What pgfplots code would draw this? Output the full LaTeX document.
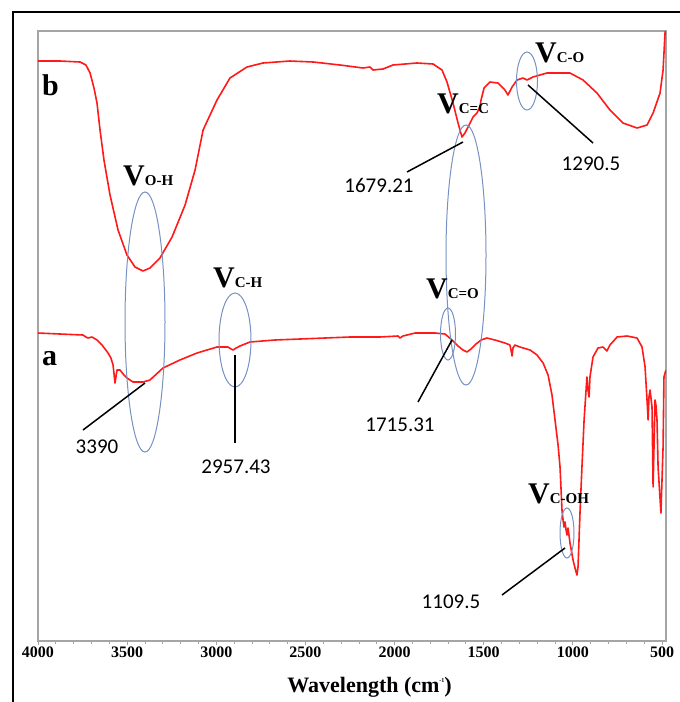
\documentclass[border=0pt]{standalone}
\usepackage{fontspec}
\setmainfont{Liberation Serif}
\newfontfamily\numfont{Carlito}
\usepackage{pgfplots}
\pgfplotsset{compat=1.18}
\definecolor{spec}{RGB}{255,25,25}
\definecolor{ell}{RGB}{120,145,195}
\definecolor{boxgray}{RGB}{165,165,165}
\newcommand{\vlab}[1]{{\fontsize{30}{30}\selectfont\bfseries V\fontsize{15}{15}\selectfont #1}}
\newcommand{\numlab}[1]{{\numfont\fontsize{21}{21}\selectfont #1}}
\begin{document}
\begin{tikzpicture}
\useasboundingbox (0pt,0pt) rectangle (680pt,-702pt);
\draw[line width=2pt] (13pt,-12pt) rectangle (700pt,-720pt);
\begin{axis}[
  at={(38pt,-641pt)}, anchor=south west,
  scale only axis, width=628pt, height=610pt,
  x dir=reverse, xmin=477.6, xmax=4000, ymin=59, ymax=669,
  ytick=\empty, xtick={500,1000,...,4000}, minor x tick num=4,
  xtick pos=left,
  axis line style={boxgray, line width=1.3pt},
  tick style={boxgray, line width=0.8pt},
  tick align=outside, major tick length=4pt, minor tick length=3pt,
  xticklabel style={font=\fontsize{16}{16}\selectfont\bfseries, yshift=2pt},
  /pgf/number format/assume math mode=true,
  /pgf/number format/set thousands separator={},
  xlabel={\fontsize{22}{22}\selectfont\bfseries Wavelength (cm\raisebox{0.45em}{\fontsize{6}{6}\selectfont -1})},
  x label style={at={(axis description cs:0.528,0)}, anchor=north, yshift=-33pt},
  clip=true,
]
\addplot[spec, line width=1.6pt, line join=round] coordinates {
(4000,639) (3877,639) (3764,638) (3731,635) (3708,627) (3686,612) (3669,597) (3652,570) (3630,540) (3596,505) (3551,470) (3501,445) (3456,433) (3411,429) (3372,432) (3316,442) (3248,463) (3175,495) (3119,530) (3074,570) (3035,585) (2996,600) (2923,622) (2828,633) (2738,637) (2587,639) (2457,638) (2306,635) (2177,632) (2138,633) (2121,630) (2065,631) (2009,635) (1874,637) (1784,636) (1734,630) (1706,618) (1672,597) (1644,577) (1622,563) (1605,567) (1588,573) (1560,583) (1538,587) (1521,593) (1515,600) (1498,612) (1465,618) (1420,617) (1381,610) (1364,605) (1341,613) (1313,620) (1280,622) (1257,620) (1224,623) (1145,627) (1016,627) (943,620) (865,607) (792,590) (719,577) (640,572) (584,575) (550,587) (511,607) (494,630) (483,667) (478,680)
};
\addplot[spec, line width=1.6pt, line join=round] coordinates {
(4000,367) (3877,366) (3748,365) (3731,363) (3720,362) (3697,363) (3669,360) (3641,355) (3624,351) (3607,347) (3591,342) (3579,335) (3568,317) (3557,330) (3540,330) (3518,325) (3501,322) (3467,318) (3411,318) (3372,320) (3299,332) (3204,340) (3108,347) (2996,353) (2934,353) (2917,351) (2906,350) (2889,352) (2867,354) (2811,358) (2671,360) (2530,361) (2250,363) (2082,363) (1981,364) (1970,362) (1953,364) (1885,367) (1773,367) (1717,366) (1678,360) (1644,354) (1616,350) (1594,348) (1571,351) (1543,356) (1515,360) (1482,362) (1437,360) (1381,357) (1353,355) (1347,350) (1341,344) (1336,352) (1325,355) (1297,353) (1240,350) (1201,345) (1167,337) (1139,325) (1117,305) (1100,280) (1083,255) (1072,233) (1066,210) (1061,190) (1055,180) (1050,173) (1044,178) (1038,170) (1033,165) (1027,172) (1016,157) (999,140) (988,132) (977,125) (971,133) (960,187) (949,233) (937,280) (926,310) (921,323) (915,310) (909,303) (904,323) (887,343) (859,352) (831,353) (809,349) (792,355) (752,363) (696,364) (640,362) (612,353) (595,333) (584,300) (578,280) (573,303) (567,310) (556,293) (550,213) (539,300) (534,295) (528,280) (522,233) (506,187) (494,253) (489,323) (483,327) (478,330)
};
\end{axis}
\begin{scope}[x=1pt, y=-1pt]
% series labels
\node[anchor=base west, inner sep=0pt, font=\fontsize{30}{30}\selectfont\bfseries] at (42,95) {b};
\node[anchor=base west, inner sep=0pt, font=\fontsize{30}{30}\selectfont\bfseries] at (42,365) {a};
% ellipses
\begin{scope}[ell, line width=1pt]
\draw (145,322) ellipse [x radius=20, y radius=130];
\draw (235,340) ellipse [x radius=16, y radius=47];
\draw (448,334) ellipse [x radius=7.5, y radius=26];
\draw (466,255) ellipse [x radius=20, y radius=130];
\draw (527,81) ellipse [x radius=10.5, y radius=29];
\draw (567,533) ellipse [x radius=7, y radius=25];
\end{scope}
% pointer lines
\begin{scope}[black, line width=1.5pt]
\draw (145,383) -- (83,430);
\draw (235,355) -- (235,443);
\draw (452,340) -- (418,402);
\draw (463,142) -- (407,172);
\draw (528,85) -- (593,143);
\draw (565,548) -- (502,595);
\end{scope}
% band labels
\node[anchor=base west, inner sep=0pt] at (123,185) {\vlab{O-H}};
\node[anchor=base west, inner sep=0pt] at (213,287) {\vlab{C-H}};
\node[anchor=base west, inner sep=0pt] at (426,298) {\vlab{C=O}};
\node[anchor=base west, inner sep=0pt] at (437,113) {\vlab{C=C}};
\node[anchor=base west, inner sep=0pt] at (535,62) {\vlab{C-O}};
\node[anchor=base west, inner sep=0pt] at (528,503) {\vlab{C-OH}};
% wavenumber labels
\node at (97,447) {\numlab{3390}};
\node at (236,467) {\numlab{2957.43}};
\node at (400,425) {\numlab{1715.31}};
\node at (379,185) {\numlab{1679.21}};
\node at (591,164) {\numlab{1290.5}};
\node at (451,602) {\numlab{1109.5}};
\end{scope}
\end{tikzpicture}
\end{document}
